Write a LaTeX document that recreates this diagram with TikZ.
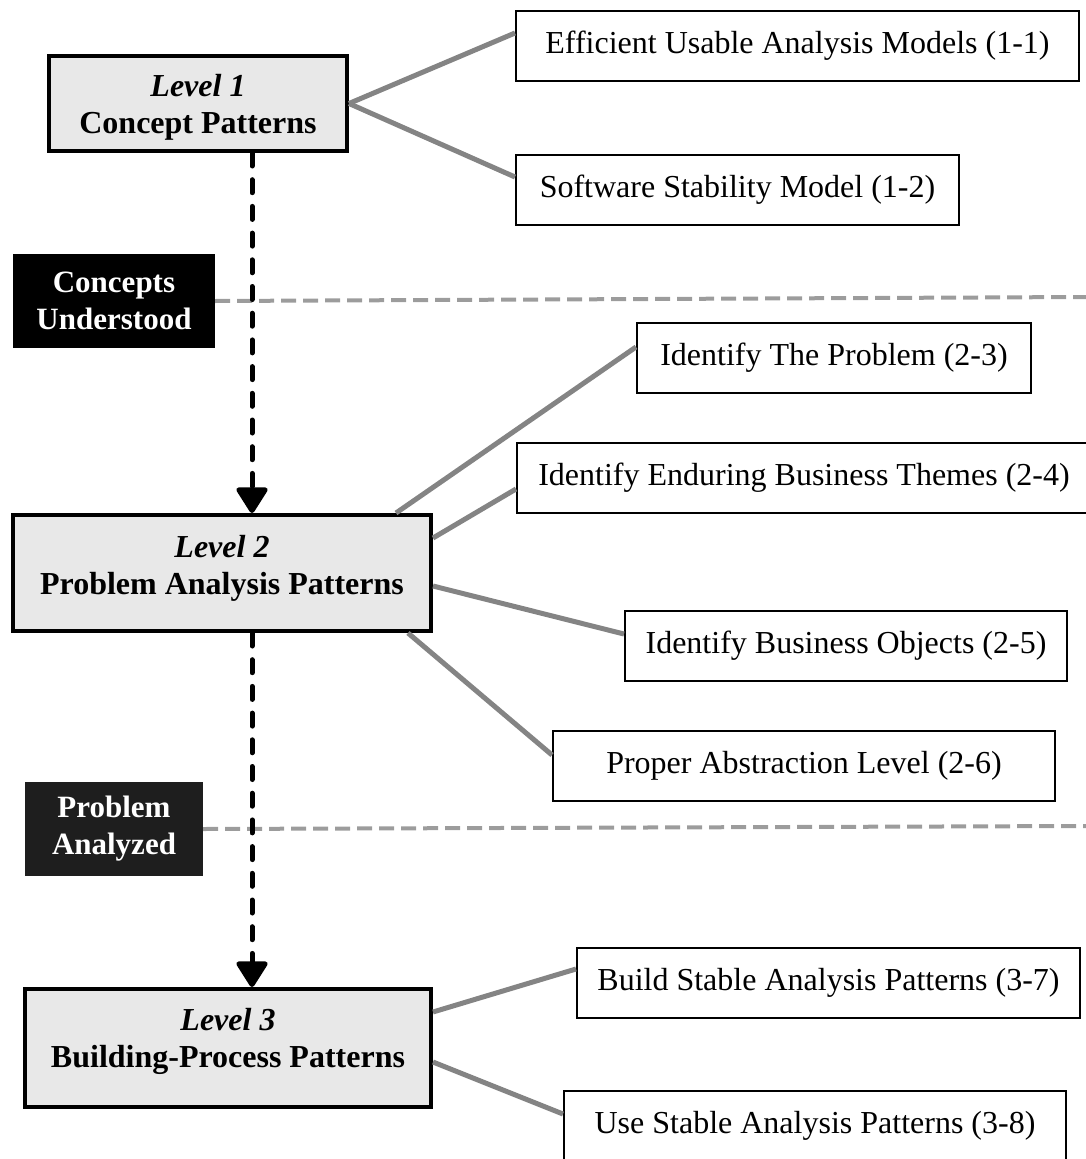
\documentclass[tikz,border=0pt]{standalone}
\usepackage{fontspec}
\setmainfont{Liberation Serif}
\usetikzlibrary{arrows.meta}

\definecolor{levelfill}{HTML}{E8E8E8}
\definecolor{linkgray}{HTML}{848484}
\definecolor{sepgray}{HTML}{9C9C9C}
\definecolor{darktag}{HTML}{1E1E1E}

\tikzset{
  levelbox/.style={draw=black, line width=4pt, fill=levelfill, rectangle,
    inner sep=0pt},
  leveltext/.style={align=center, inner sep=0pt,
    font=\fontsize{32pt}{37pt}\selectfont},
  itembox/.style={draw=black, line width=2pt, fill=white, rectangle,
    inner sep=0pt, minimum height=70pt,
    font=\fontsize{32pt}{37pt}\selectfont},
  tagbox/.style={rectangle, inner sep=0pt, text=white, align=center,
    font=\fontsize{31pt}{37pt}\selectfont\bfseries},
  link/.style={draw=linkgray, line width=5pt},
  separator/.style={draw=sepgray, line width=4pt, dash pattern=on 15pt off 7pt},
  flow/.style={draw=black, line width=5pt, line cap=round,
    dash pattern=on 13pt off 13.7pt,
    -{Triangle[width=34pt 0 0,length=28pt 0 0,round=false]}},
}

\begin{document}
\begin{tikzpicture}[x=1pt, y=-1pt]
  \useasboundingbox (0,0) rectangle (1086,1159);

  % level boxes
  \node[levelbox, minimum width=298pt, minimum height=95pt]  (L1) at (198,103.5) {};
  \node[levelbox, minimum width=418pt, minimum height=116pt] (L2) at (222,573) {};
  \node[levelbox, minimum width=406pt, minimum height=118pt] (L3) at (228,1048) {};

  \node[leveltext] (L1t) at (198,107) {\textbf{\textit{Level 1}}\\\textbf{Concept Patterns}};
  \node[leveltext] (L2t) at (222,568) {\textbf{\textit{Level 2}}\\\textbf{Problem Analysis Patterns}};
  \node[leveltext] (L3t) at (228,1041) {\textbf{\textit{Level 3}}\\\textbf{Building-Process Patterns}};

  % milestone tags
  \node[tagbox, fill=black, minimum width=202pt, minimum height=94pt] (cu) at (114,301)
    {Concepts\\Understood};
  \node[tagbox, fill=darktag, minimum width=178pt, minimum height=94pt] (pa) at (114,829)
    {Problem\\Analyzed};

  % pattern boxes
  \node[itembox, minimum width=563pt] (b11) at (797.5,46)  {Efficient Usable Analysis Models (1-1)};
  \node[itembox, minimum width=443pt] (b12) at (737.5,190) {Software Stability Model (1-2)};
  \node[itembox, minimum width=394pt] (b23) at (834,358)   {Identify The Problem (2-3)};
  \node[itembox, minimum width=574pt] (b24) at (804,478)   {Identify Enduring Business Themes (2-4)};
  \node[itembox, minimum width=442pt] (b25) at (846,646)   {Identify Business Objects (2-5)};
  \node[itembox, minimum width=502pt] (b26) at (804,766)   {Proper Abstraction Level (2-6)};
  \node[itembox, minimum width=503pt] (b37) at (828.5,982.5) {Build Stable Analysis Patterns (3-7)};
  \node[itembox, minimum width=502pt] (b38) at (815,1126)  {Use Stable Analysis Patterns (3-8)};

  % stage separators
  \coordinate (r1) at (1086,297);
  \coordinate (r2) at (1086,826);
  \draw[separator] (cu.east) -- (r1);
  \draw[separator] (pa.east) -- (r2);

  % links from each level to its patterns
  \draw[link] (L1.east) -- ([yshift=13pt]b11.west);
  \draw[link] (L1.east) -- ([yshift=13pt]b12.west);
  \draw[link] ([xshift=174pt]L2.north) -- ([yshift=11pt]b23.west);
  \draw[link] ([yshift=35pt]L2.east) -- ([yshift=-11pt]b24.west);
  \draw[link] ([yshift=-13pt]L2.east) -- ([yshift=12pt]b25.west);
  \draw[link] ([xshift=186pt]L2.south) -- ([yshift=11pt]b26.west);
  \draw[link] ([yshift=36pt]L3.east) -- ([yshift=13.5pt]b37.west);
  \draw[link] ([yshift=-14pt]L3.east) -- ([yshift=12pt]b38.west);

  % progression between levels
  \coordinate (axis) at (252,0);
  \draw[flow] (L1.south -| axis) -- (L2.north -| axis);
  \draw[flow] (L2.south -| axis) -- (L3.north -| axis);
\end{tikzpicture}
\end{document}
